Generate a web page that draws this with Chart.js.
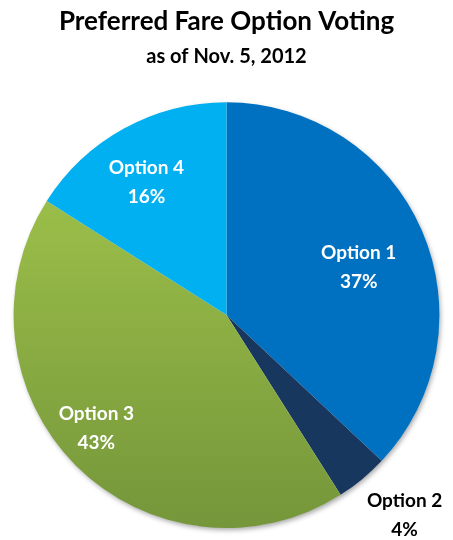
<!DOCTYPE html>
<html><head><meta charset="utf-8">
<script src="https://cdn.jsdelivr.net/npm/chart.js@4"></script>
<style>html,body{margin:0;padding:0;background:#fff;}#wrap{width:453px;height:540px;}</style>
</head><body><div id="wrap"><canvas id="c" width="453" height="540"></canvas></div>
<script>
const categories = ["Option 1", "Option 2", "Option 3", "Option 4"];
const shares = [37, 4, 43, 16];
const percentLabels = ["37%", "4%", "43%", "16%"];
const titleText = "Preferred Fare Option Voting";
const subtitleText = "as of Nov. 5, 2012";

const FONT = "Lato, 'Open Sans', sans-serif";
const sliceColors = ['#0070C0', '#17375E', null, '#00B0F0'];
// label placement: radius fraction and angle offset (deg) relative to slice middle
const labelPlace = [
  {r: 0.66, da: 3.6, color: '#fff'},
  {r: 1.26, da: -2, color: '#000'},
  {r: 0.81, da: 4, color: '#fff'},
  {r: 0.73, da: -2.2, color: '#fff'}
];

function sliceColor(ctx) {
  const i = ctx.dataIndex;
  if (sliceColors[i]) return sliceColors[i];
  const ch = ctx.chart; const a = ch.chartArea;
  if (!a) return '#8DB443';
  const g = ch.ctx.createLinearGradient(0, a.top, 0, a.bottom);
  g.addColorStop(0, '#A6CA4E');
  g.addColorStop(1, '#75963A');
  return g;
}

const shadowPlugin = {
  id: 'pieShadow',
  beforeDatasetsDraw(chart) {
    const arc = chart.getDatasetMeta(0).data[0];
    if (!arc) return;
    const c = chart.ctx;
    c.save();
    c.shadowColor = 'rgba(0,0,0,0.35)';
    c.shadowBlur = 5;
    c.shadowOffsetX = 1.5;
    c.shadowOffsetY = 2.5;
    c.fillStyle = '#fff';
    c.beginPath();
    c.arc(arc.x, arc.y, arc.outerRadius - 0.5, 0, Math.PI * 2);
    c.fill();
    c.restore();
  }
};

const labelPlugin = {
  id: 'sliceLabels',
  afterDatasetsDraw(chart) {
    const c = chart.ctx;
    const meta = chart.getDatasetMeta(0);
    meta.data.forEach((arc, i) => {
      const p = labelPlace[i];
      const mid = (arc.startAngle + arc.endAngle) / 2 + p.da * Math.PI / 180;
      const x = arc.x + Math.cos(mid) * arc.outerRadius * p.r;
      const y = arc.y + Math.sin(mid) * arc.outerRadius * p.r;
      c.save();
      c.fillStyle = p.color;
      c.font = "bold 19px " + FONT;
      c.textAlign = 'center';
      c.textBaseline = 'middle';
      c.fillText(categories[i], x, y - 14.5);
      c.fillText(percentLabels[i], x, y + 14.5);
      c.restore();
    });
  }
};

new Chart(document.getElementById('c'), {
  type: 'pie',
  data: {
    labels: categories,
    datasets: [{
      data: shares,
      backgroundColor: sliceColor,
      borderWidth: 0,
      hoverOffset: 0
    }]
  },
  options: {
    responsive: false,
    animation: false,
    rotation: 0,
    layout: {padding: {top: 0, bottom: 12, left: 0, right: 0}},
    plugins: {
      legend: {display: false},
      tooltip: {enabled: false},
      title: {display: true, text: titleText, color: '#000',
        font: {family: FONT, size: 26, weight: 'bold', lineHeight: 1.2},
        padding: {top: 6, bottom: 2}},
      subtitle: {display: true, text: subtitleText, color: '#000',
        font: {family: FONT, size: 20, weight: 'bold', lineHeight: 1.2},
        padding: {top: 5, bottom: 34}}
    }
  },
  plugins: [shadowPlugin, labelPlugin]
});
</script></body></html>
